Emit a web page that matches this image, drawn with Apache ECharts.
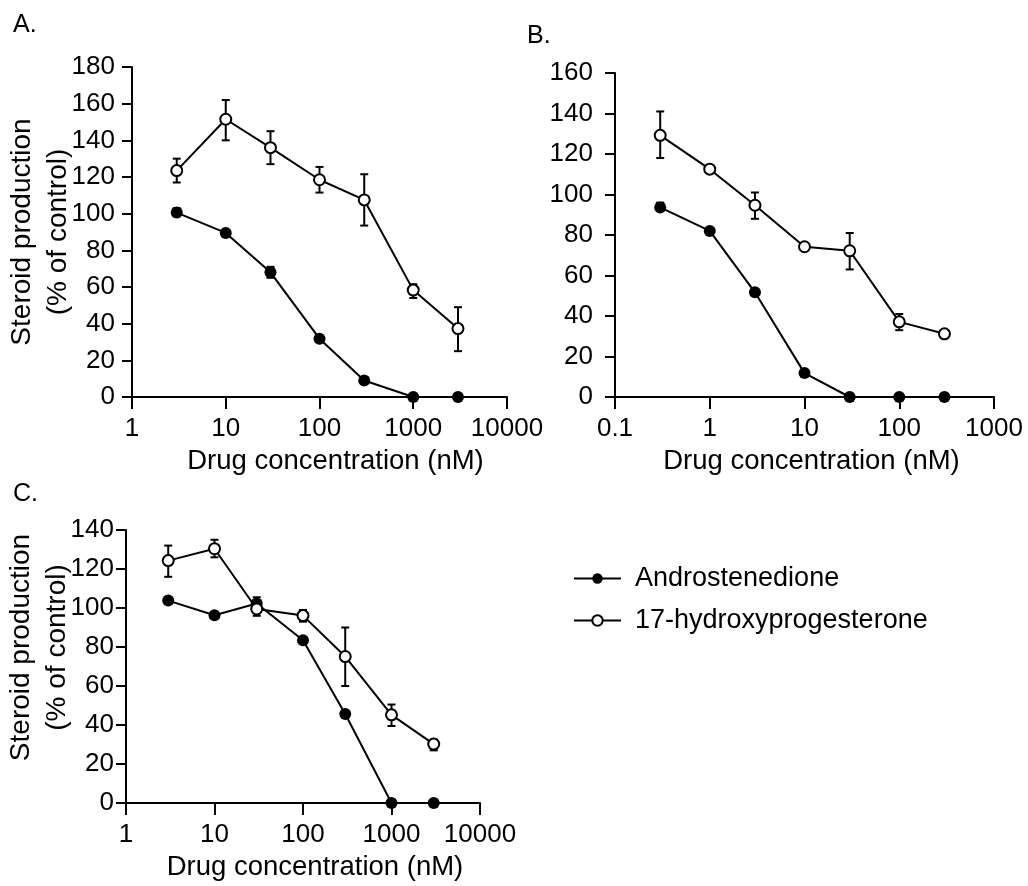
<!DOCTYPE html>
<html>
<head>
<meta charset="utf-8">
<script src="https://cdn.jsdelivr.net/npm/echarts@6/dist/echarts.min.js"></script>
<style>
html,body{margin:0;padding:0;background:#fff;}
#chart{width:1028px;height:886px;}
</style>
</head>
<body>
<div id="chart"></div>
<script>
// ---- data ----
const concAC = [3, 10, 30, 100, 300, 1000, 3000];
const concB = [0.3, 1, 3, 10, 30, 100, 300];

const andA = [100.6, 89.5, 68, 31.8, 9, 0, 0];
const ohpA = [123.5, 151.5, 136, 118.5, 107.5, 58.3, 37.3];
const andAErr = [[98.5, 103], null, [65, 71], null, null, null, null];
const ohpAErr = [[117, 130], [140, 162], [127, 145], [111.5, 125.5], [93.5, 121.5], [54, 61.5], [25, 49]];

const andB = [93.6, 82, 51.7, 11.8, 0, 0, 0];
const ohpB = [129.2, 112.5, 94.7, 74.2, 72.2, 37.1, 31.2];
const andBErr = [[92, 96], null, null, null, null, null, null];
const ohpBErr = [[118, 141], null, [88, 101], null, [63, 81], [33, 41], null];

const andC = [103.8, 96.3, 102.3, 83.5, 45.6, 0, 0];
const ohpC = [124.3, 130.4, 99.5, 96.1, 75.1, 45.2, 30.2];
const andCErr = [null, null, null, null, null, null, null];
const ohpCErr = [[116, 132], [126, 135], [96, 105.5], [93, 99], [60, 90], [39.5, 50.5], [27, 32.5]];

const xTicksAC = ['1', '10', '100', '1000', '10000'];
const xTicksB = ['0.1', '1', '10', '100', '1000'];
const yTicksA = [0, 20, 40, 60, 80, 100, 120, 140, 160, 180];
const yTicksB = [0, 20, 40, 60, 80, 100, 120, 140, 160];
const yTicksC = [0, 20, 40, 60, 80, 100, 120, 140];

const seriesNames = ['Androstenedione', '17-hydroxyprogesterone'];
const panelLabels = ['A.', 'B.', 'C.'];
const xTitle = 'Drug concentration (nM)';
const yTitle = 'Steroid production\n(% of control)';

// ---- styling ----
const FONT = '"Liberation Sans", Arial, Helvetica, sans-serif';
const BLACK = '#000';

function pairs(xs, ys) { return xs.map((x, i) => [x, ys[i]]); }
function errPairs(xs, errs) {
  const out = [];
  errs.forEach((e, i) => { if (e) out.push([xs[i], e[0], e[1]]); });
  return out;
}
function logFormatter(labels) {
  return function (v) {
    for (const l of labels) {
      if (Math.abs(Math.log10(Number(l)) - Math.log10(v)) < 1e-6) return l;
    }
    return '';
  };
}

function errRender(params, api) {
  const x = api.value(0), lo = api.value(1), hi = api.value(2);
  const a = api.coord([x, lo]), b = api.coord([x, hi]);
  const hw = 4;
  const st = { stroke: BLACK, lineWidth: 2 };
  return {
    type: 'group',
    children: [
      { type: 'line', shape: { x1: a[0], y1: a[1], x2: b[0], y2: b[1] }, style: st },
      { type: 'line', shape: { x1: a[0] - hw, y1: a[1], x2: a[0] + hw, y2: a[1] }, style: st },
      { type: 'line', shape: { x1: b[0] - hw, y1: b[1], x2: b[0] + hw, y2: b[1] }, style: st }
    ]
  };
}

function xAxis(idx, labels, padLeft) {
  return {
    type: 'log', logBase: 10, gridIndex: idx,
    min: Number(labels[0]), max: Number(labels[labels.length - 1]),
    name: xTitle, nameLocation: 'middle', nameGap: 50, nameMoveOverlap: false,
    nameTextStyle: { fontFamily: FONT, fontSize: 27.5, color: BLACK, padding: [0, 0, 0, padLeft] },
    axisLine: { show: true, onZero: false, lineStyle: { color: BLACK, width: 2 } },
    axisTick: { show: true, inside: false, length: 12, lineStyle: { color: BLACK, width: 2 } },
    minorTick: { show: false },
    splitLine: { show: false },
    axisLabel: { fontFamily: FONT, fontSize: 26, color: BLACK, margin: 19, formatter: logFormatter(labels) }
  };
}
function yAxis(idx, ticks, showName, gap, padLeft, labelMargin) {
  return {
    type: 'value', gridIndex: idx,
    min: ticks[0], max: ticks[ticks.length - 1], interval: ticks[1] - ticks[0],
    name: showName ? yTitle : '', nameLocation: 'middle', nameRotate: 90, nameGap: gap,
    nameMoveOverlap: false,
    nameTextStyle: { fontFamily: FONT, fontSize: 28, color: BLACK, lineHeight: 36, padding: [0, 0, 0, padLeft || 0] },
    axisLine: { show: true, onZero: false, lineStyle: { color: BLACK, width: 2 } },
    axisTick: { show: true, inside: false, length: 10, lineStyle: { color: BLACK, width: 2 } },
    splitLine: { show: false },
    axisLabel: { fontFamily: FONT, fontSize: 26, color: BLACK, margin: labelMargin }
  };
}

function lineSeries(idx, name, xs, ys, filled) {
  return {
    type: 'line', name: name, xAxisIndex: idx, yAxisIndex: idx,
    data: pairs(xs, ys), z: 3,
    symbol: 'circle', symbolSize: filled ? 12 : 11,
    showSymbol: true, animation: false,
    lineStyle: { color: BLACK, width: 2 },
    itemStyle: filled ? { color: BLACK, borderColor: BLACK, borderWidth: 0 }
                      : { color: '#fff', borderColor: BLACK, borderWidth: 2 },
    emphasis: { disabled: true }
  };
}
function errSeries(idx, xs, errs) {
  return {
    type: 'custom', name: 'err', xAxisIndex: idx, yAxisIndex: idx,
    data: errPairs(xs, errs), renderItem: errRender, z: 2, animation: false,
    encode: { x: 0, y: [1, 2] }, silent: true
  };
}

const chart = echarts.init(document.getElementById('chart'), null, { renderer: 'canvas' });
chart.setOption({
  backgroundColor: '#fff',
  animation: false,
  textStyle: { fontFamily: FONT, color: BLACK },
  title: [
    { text: panelLabels[0], left: 8, top: 8, textStyle: { fontFamily: FONT, fontSize: 25, fontWeight: 'normal', color: BLACK } },
    { text: panelLabels[1], left: 522, top: 19, textStyle: { fontFamily: FONT, fontSize: 25, fontWeight: 'normal', color: BLACK } },
    { text: panelLabels[2], left: 8, top: 477, textStyle: { fontFamily: FONT, fontSize: 25, fontWeight: 'normal', color: BLACK } }
  ],
  legend: {
    data: seriesNames, orient: 'vertical', left: 568, top: 558,
    itemWidth: 47, itemHeight: 13, itemGap: 11, selectedMode: false,
    textStyle: { fontFamily: FONT, fontSize: 27, color: BLACK, lineHeight: 31, padding: [0, 0, 0, 9] }
  },
  grid: [
    { left: 132, top: 67, width: 375, height: 330, containLabel: false, outerBoundsMode: 'none' },
    { left: 615, top: 73, width: 379, height: 324, containLabel: false, outerBoundsMode: 'none' },
    { left: 126, top: 530, width: 354, height: 273, containLabel: false, outerBoundsMode: 'none' }
  ],
  xAxis: [xAxis(0, xTicksAC, 32), xAxis(1, xTicksB, 14), xAxis(2, xTicksAC, 24)],
  yAxis: [yAxis(0, yTicksA, true, 56, 0, 17), yAxis(1, yTicksB, false, 0, 0, 22), yAxis(2, yTicksC, true, 51, 38, 12)],
  series: [
    errSeries(0, concAC, ohpAErr), errSeries(0, concAC, andAErr),
    lineSeries(0, seriesNames[0], concAC, andA, true),
    lineSeries(0, seriesNames[1], concAC, ohpA, false),
    errSeries(1, concB, ohpBErr), errSeries(1, concB, andBErr),
    lineSeries(1, seriesNames[0], concB, andB, true),
    lineSeries(1, seriesNames[1], concB, ohpB, false),
    errSeries(2, concAC, ohpCErr), errSeries(2, concAC, andCErr),
    lineSeries(2, seriesNames[0], concAC, andC, true),
    lineSeries(2, seriesNames[1], concAC, ohpC, false)
  ]
});
</script>
</body>
</html>
